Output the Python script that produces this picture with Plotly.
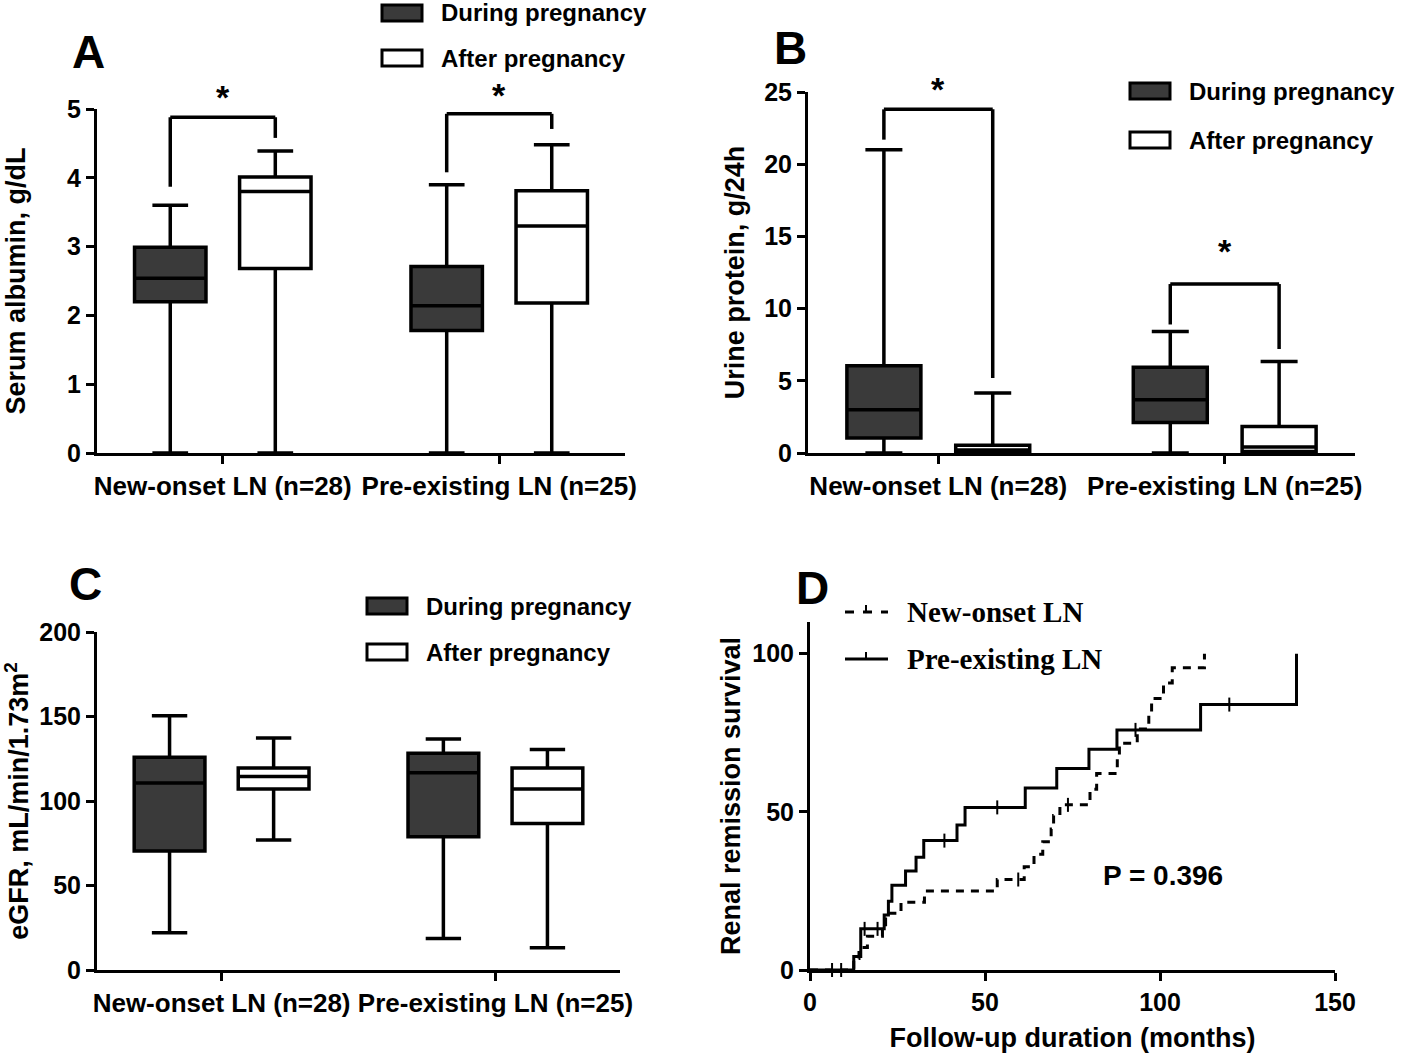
import plotly.graph_objects as go

W, H = 1416, 1059

groups = ['New-onset LN (n=28)', 'Pre-existing LN (n=25)']
phases = ['During pregnancy', 'After pregnancy']

# five-number summaries per group: [min, q1, median, q3, max]
alb_during = [[0.0, 2.20, 2.54, 2.99, 3.60], [0.0, 1.78, 2.14, 2.71, 3.90]]
alb_after = [[0.0, 2.68, 3.80, 4.01, 4.39], [0.0, 2.18, 3.30, 3.81, 4.48]]

uprot_during = [[0.0, 1.04, 3.00, 6.04, 21.0], [0.0, 2.12, 3.69, 5.94, 8.41]]
uprot_after = [[0.0, 0.0, 0.20, 0.53, 4.15], [0.0, 0.10, 0.41, 1.84, 6.34]]

egfr_during = [[22.0, 70.4, 110.6, 125.9, 150.4], [18.6, 78.8, 116.7, 128.2, 136.7]]
egfr_after = [[76.9, 107.1, 114.5, 119.6, 137.3], [13.1, 86.7, 107.1, 119.6, 130.4]]

# significance brackets per group: [left leg bottom, bar, right leg bottom, star]
alb_sig = [[3.87, 4.88, 4.58, 5.17], [4.08, 4.93, 4.71, 5.2]]
uprot_sig = [[21.7, 23.8, 5.2, 25.2], [8.9, 11.7, 7.2, 14.0]]

# Kaplan-Meier renal remission survival (%), months
new_t = [0, 12.5, 14.0, 16.4, 20.7, 21.6, 26.0, 32.7, 53.5, 61.2, 64.0, 66.5, 68.9, 69.6,
         71.4, 80.0, 81.9, 87.8, 88.4, 93.5, 96.8, 97.6, 101.0, 103.5, 112.7]
new_s = [0, 3.6, 7.1, 10.7, 14.3, 17.9, 21.4, 25.0, 28.6, 32.6, 36.6, 40.5, 44.6, 48.8,
         52.2, 57.1, 62.1, 66.9, 71.7, 76.2, 81.0, 85.8, 90.7, 95.5, 100]
new_cens_t = [8.9, 59.5, 73.7]
new_cens_s = [0, 28.6, 52.2]

pre_t = [0, 12.5, 14.5, 21.2, 22.4, 23.4, 27.3, 30.3, 32.5, 42.0, 44.3, 61.5, 70.5,
         79.7, 87.7, 111.6, 139.0]
pre_s = [0, 4.3, 13.0, 17.4, 21.7, 26.8, 31.3, 35.6, 40.9, 45.8, 51.4, 57.5, 63.7,
         69.8, 75.9, 83.9, 100]
pre_cens_t = [6.3, 15.6, 19.3, 38.4, 53.5, 93.0, 119.8]
pre_cens_s = [0, 13.0, 13.0, 40.9, 51.4, 75.9, 83.9]

DARK = '#3a3a3a'
FONT = 'Liberation Sans'
BOXGAP = 0.24
OFF = (1 - BOXGAP) / 4  # centre offset of each box inside a group


def px(p):
    return p / W


def py(p):
    return 1 - p / H


def box(summary, name, fill, xa, ya, panel):
    lo, q1, med, q3, hi = zip(*summary)
    return go.Box(
        x=groups, lowerfence=list(lo), q1=list(q1), median=list(med), q3=list(q3),
        upperfence=list(hi), name=name, fillcolor=fill, boxpoints=False,
        line=dict(color='black', width=3.5), whiskerwidth=0.5,
        offsetgroup=name, alignmentgroup=panel,
        xaxis=xa, yaxis=ya, showlegend=False,
    )


fig = go.Figure()
fig.add_trace(box(alb_during, phases[0], DARK, 'x', 'y', 'A'))
fig.add_trace(box(alb_after, phases[1], 'white', 'x', 'y', 'A'))
fig.add_trace(box(uprot_during, phases[0], DARK, 'x2', 'y2', 'B'))
fig.add_trace(box(uprot_after, phases[1], 'white', 'x2', 'y2', 'B'))
fig.add_trace(box(egfr_during, phases[0], DARK, 'x3', 'y3', 'C'))
fig.add_trace(box(egfr_after, phases[1], 'white', 'x3', 'y3', 'C'))

fig.add_trace(go.Scatter(x=new_t, y=new_s, mode='lines', xaxis='x4', yaxis='y4',
                         line=dict(shape='hv', color='black', width=3, dash='8px,7px'),
                         name='New-onset LN', showlegend=False))
fig.add_trace(go.Scatter(x=pre_t, y=pre_s, mode='lines', xaxis='x4', yaxis='y4',
                         line=dict(shape='hv', color='black', width=3),
                         name='Pre-existing LN', showlegend=False))
for ct, cs in [(new_cens_t, new_cens_s), (pre_cens_t, pre_cens_s)]:
    fig.add_trace(go.Scatter(x=ct, y=cs, mode='markers', xaxis='x4', yaxis='y4',
                             marker=dict(symbol='line-ns', size=10, line=dict(width=2, color='black')),
                             cliponaxis=False, showlegend=False, hoverinfo='skip'))

tickfont = dict(family=FONT, size=25, color='black', weight='bold')
catfont = dict(family=FONT, size=26, color='black', weight='bold')
titlefont = dict(family=FONT, size=27, color='black', weight='bold')
common = dict(showline=True, linewidth=3, linecolor='black', ticks='outside', ticklen=8,
              tickwidth=3, tickcolor='black', showgrid=False, zeroline=False,
              tickfont=tickfont, automargin=False)


def cat_axis(x0, x1, anchor):
    return dict(common, domain=[px(x0), px(x1)], anchor=anchor, type='category',
                range=[-0.455, 1.455], tickfont=catfont, tickangle=0)


def val_axis(bottom, top, anchor, rng, dtick, title, standoff):
    return dict(common, domain=[py(bottom), py(top)], anchor=anchor, range=rng, dtick=dtick,
                title=dict(text=title, font=titlefont, standoff=standoff))


fig.update_layout(
    width=W, height=H, margin=dict(l=0, r=0, t=0, b=0),
    paper_bgcolor='white', plot_bgcolor='white', showlegend=False,
    boxmode='group', boxgap=BOXGAP, boxgroupgap=0.32,
    xaxis=cat_axis(97, 625, 'y'),
    yaxis=val_axis(453, 109, 'x', [0, 5], 1, 'Serum albumin, g/dL', 34),
    xaxis2=cat_axis(808, 1355, 'y2'),
    yaxis2=val_axis(453, 92, 'x2', [0, 25], 5, 'Urine protein, g/24h', 12),
    xaxis3=cat_axis(97, 620, 'y3'),
    yaxis3=val_axis(970, 632, 'x3', [0, 200], 50, 'eGFR, mL/min/1.73m<sup>2</sup>', 14),
    xaxis4=dict(common, domain=[px(810), px(1335)], anchor='y4', range=[0, 150], dtick=50,
                title=dict(text='Follow-up duration (months)', font=titlefont, standoff=14)),
    yaxis4=val_axis(970, 622, 'x4', [0, 110], 50, 'Renal remission survival', 4),
)

shapes = []
annotations = []


def bracket(xa, ya, sig, ymax):
    for i, (yl, ytop, yr, ystar) in enumerate(sig):
        xl, xr = i - OFF, i + OFF
        for x0, y0, x1, y1 in [(xl, yl, xl, ytop), (xl, ytop, xr, ytop), (xr, ytop, xr, yr)]:
            shapes.append(dict(type='line', xref=xa, yref=ya, x0=x0, y0=y0, x1=x1, y1=y1,
                               line=dict(color='black', width=3.5)))
        # star placed in domain units so it may sit above the axis range
        annotations.append(dict(xref=xa, yref=ya + ' domain', x=i, y=ystar / ymax,
                                text='*', showarrow=False, yanchor='middle',
                                font=dict(family=FONT, size=34, color='black', weight='bold')))


bracket('x', 'y', alb_sig, 5)
bracket('x2', 'y2', uprot_sig, 25)


def box_legend(x, y1, y2, size):
    for yc, fill, label in [(y1, DARK, phases[0]), (y2, 'white', phases[1])]:
        shapes.append(dict(type='rect', xref='paper', yref='paper',
                           x0=px(x), x1=px(x + 40), y0=py(yc + 8), y1=py(yc - 8),
                           fillcolor=fill, line=dict(color='black', width=3)))
        annotations.append(dict(xref='paper', yref='paper', x=px(x + 57), y=py(yc),
                                text=label, showarrow=False, xanchor='left', yanchor='middle',
                                font=dict(family=FONT, size=size, color='black', weight='bold')))


box_legend(382, 13, 58, 24)
box_legend(1130, 91, 140, 24)
box_legend(367, 606, 652, 24)

# legend for the survival curves
serif = dict(family='Liberation Serif', size=29, color='black', weight='bold')
for yc, dash, label in [(612, 'dash', 'New-onset LN'), (659, 'solid', 'Pre-existing LN')]:
    shapes.append(dict(type='line', xref='paper', yref='paper', x0=px(845), x1=px(888),
                       y0=py(yc), y1=py(yc), line=dict(color='black', width=3, dash=dash)))
    shapes.append(dict(type='line', xref='paper', yref='paper', x0=px(866), x1=px(866),
                       y0=py(yc), y1=py(yc - 7), line=dict(color='black', width=2)))
    annotations.append(dict(xref='paper', yref='paper', x=px(905), y=py(yc), text=label,
                            showarrow=False, xanchor='left', yanchor='middle', font=serif))

annotations.append(dict(xref='paper', yref='paper', x=px(1225), y=py(893), text='P = 0.396',
                        showarrow=False, font=dict(family=FONT, size=28, color='black', weight='bold')))

for letter, x, y in [('A', 88, 52), ('B', 790, 48), ('C', 85, 584), ('D', 812, 588)]:
    annotations.append(dict(xref='paper', yref='paper', x=px(x), y=py(y), text=letter,
                            showarrow=False, xanchor='center', yanchor='middle',
                            font=dict(family=FONT, size=46, color='black', weight='bold')))

fig.update_layout(shapes=shapes, annotations=annotations)
# drop the default page margin so the figure fills the window exactly
fig.write_html('out.html', config={'displayModeBar': False},
               post_script="document.body.style.margin = '0';")
